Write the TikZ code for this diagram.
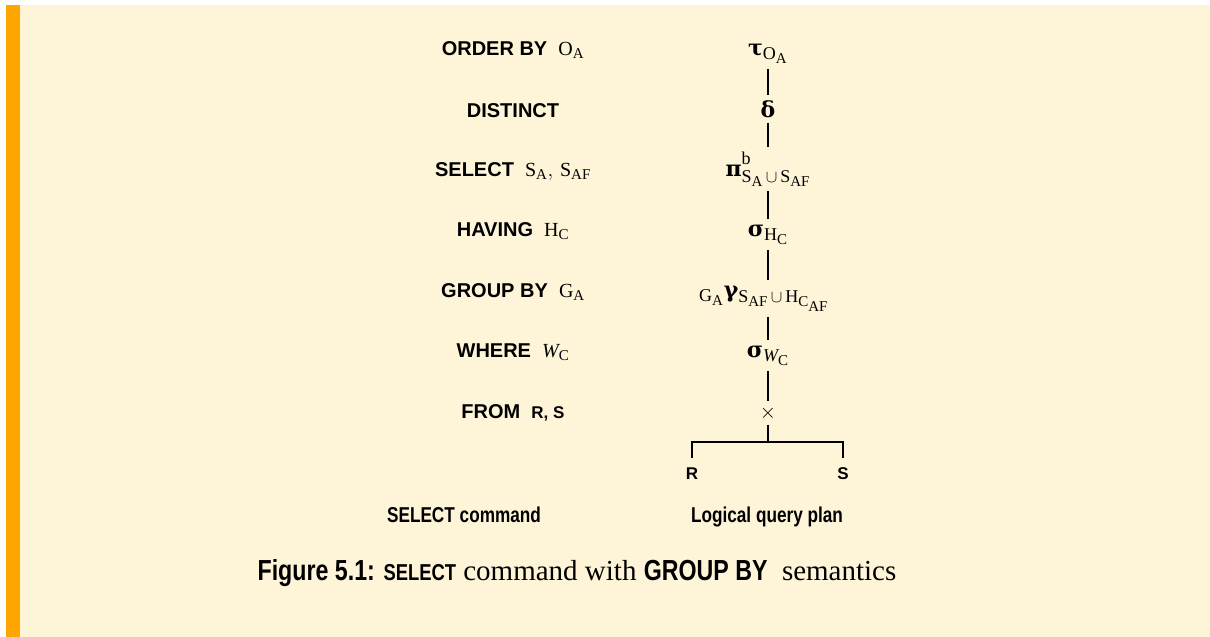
\documentclass[tikz,border=0pt]{standalone}
\usepackage{fontspec}
\setmainfont{Liberation Serif}
\setsansfont{Liberation Sans}
\newfontfamily\narrowsans[FakeStretch=0.8]{Liberation Sans}
\newfontfamily\grk{DejaVu Serif}
\newcommand{\gk}[1]{\mbox{\grk\bfseries #1}}
\DeclareMathSizes{22}{22}{18}{15}
\DeclareMathSizes{20}{20}{15}{12}
\definecolor{cream}{HTML}{FEF5D9}
\definecolor{barorange}{HTML}{FFA500}
\begin{document}
\begin{tikzpicture}[x=1pt,y=-1pt,
  every node/.style={inner sep=0pt},
  lbl/.style={anchor=base, font=\fontsize{20}{24}\selectfont\sffamily\bfseries},
  op/.style={anchor=base, inner sep=5pt, font=\fontsize{22}{26}\selectfont},
  leaf/.style={anchor=base, font=\fontsize{17}{20}\selectfont\sffamily\bfseries},
  foot/.style={anchor=base, font=\fontsize{21.5}{25}\selectfont\narrowsans\bfseries},
  conn/.style={line width=1.6pt}]
\useasboundingbox (0,0) rectangle (1210,637);
\fill[white] (0,0) rectangle (1210,637);
\fill[cream] (20,5) rectangle (1210,637);
\fill[barorange] (6,5) rectangle (20,637);
% left column
\node[lbl] (l1) at (513,55) {ORDER BY\ \ \mdseries$\mathrm{O}_{\mathrm{A}}$};
\node[lbl] (l2) at (513,117) {DISTINCT};
\node[lbl] (l3) at (513,176) {SELECT\ \ $\mathrm{S}_{\mathrm{A}},\,\mathrm{S}_{\mathrm{AF}}$};
\node[lbl] (l4) at (513,236) {HAVING\ \ $\mathrm{H}_{\mathrm{C}}$};
\node[lbl] (l5) at (513,297) {GROUP BY\ \ $\mathrm{G}_{\mathrm{A}}$};
\node[lbl] (l6) at (513,357) {WHERE\ \ $\mathit{W}_{\mathrm{C}}$};
\node[lbl] (l7) at (513,418) {FROM\ \ {\fontsize{17}{20}\selectfont R, S}};
% right column
\node[op] (o1) at (768,55) {$\gk{τ}_{\mathrm{O}_{\mathrm{A}}}$};
\node[op] (o2) at (768,117) {$\gk{δ}$};
\node[op] (o3) at (768,176) {$\gk{π}^{\raisebox{4pt}{$\scriptstyle\mathrm{b}$}}_{\raisebox{-1pt}{$\scriptstyle\mathrm{S}_{\mathrm{A}}\,\cup\,\mathrm{S}_{\mathrm{AF}}$}}$};
\node[op] (o4) at (768,236) {$\gk{σ}_{\mathrm{H}_{\mathrm{C}}}$};
\node[op] (o5) at (764,297) {${}_{\mathrm{G}_{\mathrm{A}}}\gk{γ}_{\mathrm{S}_{\mathrm{AF}}\,\cup\,\mathrm{H}_{\mathrm{C}_{\mathrm{AF}}}}$};
\node[op] (o6) at (768,357) {$\gk{σ}_{\mathit{W}_{\mathrm{C}}}$};
\node[op] (o7) at (768,418) {$\times$};
\coordinate (fork) at (768,442);
\node[leaf] (R) at (692,479) {R};
\node[leaf] (S) at (843,479) {S};
\draw[conn] (o1.south -| fork) -- (o2.north -| fork);
\draw[conn] (o2.south -| fork) -- (o3.north -| fork);
\draw[conn] (o3.south -| fork) -- (o4.north -| fork);
\draw[conn] (o4.south -| fork) -- (o5.north -| fork);
\draw[conn] (o5.south -| fork) -- (o6.north -| fork);
\draw[conn] (o6.south -| fork) -- (o7.north -| fork);
\draw[conn] (o7.south -| fork) -- (fork);
\draw[conn] ([yshift=9pt]R.north) -- (R.north |- fork) -- (S.north |- fork) -- ([yshift=9pt]S.north);
% footers
\node[foot] (f1) at (464,522) {SELECT command};
\node[foot] (f2) at (767,522) {Logical query plan};
\node[anchor=base, font=\fontsize{29}{33}\selectfont] (cap) at (577,580)
  {{\narrowsans\bfseries Figure 5.1: {\fontsize{23}{26}\selectfont SELECT}} command with {\narrowsans\bfseries GROUP BY}\ \ semantics};
\end{tikzpicture}
\end{document}
